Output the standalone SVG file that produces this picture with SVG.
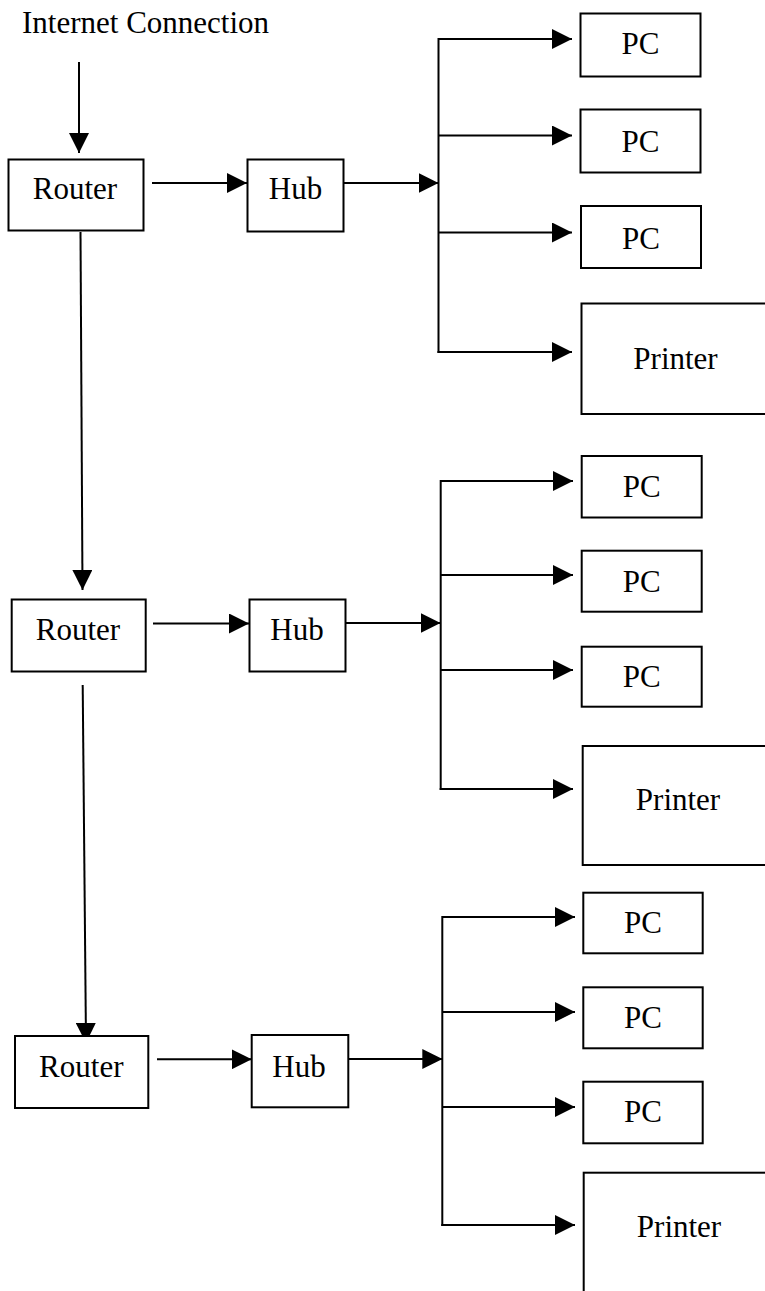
<svg xmlns="http://www.w3.org/2000/svg" width="765" height="1291" viewBox="0 0 765 1291">
<style>
.box{fill:#fff;stroke:#000;stroke-width:2}
.lbl{font-family:"Liberation Serif","Times New Roman",serif;font-size:31px;fill:#000;text-anchor:middle}
.c{stroke:#000;stroke-width:2;fill:none}
.a{stroke:#000;stroke-width:2;fill:none;marker-end:url(#ah)}
</style>
<defs>
<marker id="ah" markerUnits="userSpaceOnUse" markerWidth="20" markerHeight="20" refX="20" refY="10" orient="auto" viewBox="0 0 20 20">
<path d="M0,0 L20,10 L0,20 z" fill="#000"/>
</marker>
</defs>
<rect width="765" height="1291" fill="#fff"/>
<text class="lbl" x="22" y="33" style="text-anchor:start">Internet Connection</text>

<g id="connectors">
<line class="a" x1="79" y1="62" x2="79" y2="153"/>
<line class="a" x1="152" y1="183" x2="247" y2="183"/>
<line class="a" x1="343" y1="183" x2="438.5" y2="183"/>
<line class="c" x1="438.5" y1="38" x2="438.5" y2="353"/>
<line class="a" x1="438.5" y1="39" x2="572" y2="39"/>
<line class="a" x1="438.5" y1="135.5" x2="572" y2="135.5"/>
<line class="a" x1="438.5" y1="232.5" x2="572" y2="232.5"/>
<line class="a" x1="437.5" y1="352" x2="572" y2="352"/>
<line class="a" x1="80.5" y1="232" x2="82.5" y2="590"/>

<line class="a" x1="153" y1="623.5" x2="249" y2="623.5"/>
<line class="a" x1="346" y1="623" x2="440.5" y2="623"/>
<line class="c" x1="440.7" y1="480" x2="440.7" y2="790"/>
<line class="a" x1="440.7" y1="481" x2="573" y2="481"/>
<line class="a" x1="440.7" y1="575" x2="573" y2="575"/>
<line class="a" x1="440.7" y1="670" x2="573" y2="670"/>
<line class="a" x1="439.7" y1="789" x2="573" y2="789"/>
<line class="a" x1="82.7" y1="685" x2="86" y2="1043"/>

<line class="a" x1="157" y1="1059.3" x2="251.7" y2="1059.3"/>
<line class="a" x1="348.3" y1="1059" x2="442.3" y2="1059"/>
<line class="c" x1="442.3" y1="916" x2="442.3" y2="1226"/>
<line class="a" x1="442.3" y1="917" x2="575" y2="917"/>
<line class="a" x1="442.3" y1="1012" x2="575" y2="1012"/>
<line class="a" x1="442.3" y1="1107" x2="575" y2="1107"/>
<line class="a" x1="441.3" y1="1225" x2="575" y2="1225"/>
</g>

<g id="router1"><rect class="box" x="8.5" y="159.5" width="135" height="71"/><text class="lbl" x="75" y="199">Router</text></g>
<g id="hub1"><rect class="box" x="247.5" y="159.5" width="96" height="72"/><text class="lbl" x="295.5" y="199">Hub</text></g>
<g id="pc1a"><rect class="box" x="580.5" y="13.5" width="120" height="63"/><text class="lbl" x="640.5" y="54">PC</text></g>
<g id="pc1b"><rect class="box" x="580.5" y="109.5" width="120" height="63"/><text class="lbl" x="640.5" y="151.5">PC</text></g>
<g id="pc1c"><rect class="box" x="581" y="206" width="120" height="62"/><text class="lbl" x="641" y="248.5">PC</text></g>
<g id="printer1"><rect class="box" x="581.5" y="303.5" width="200" height="110.5"/><text class="lbl" x="675.5" y="368.5">Printer</text></g>

<g id="router2"><rect class="box" x="11.7" y="599.5" width="134" height="72"/><text class="lbl" x="78" y="640">Router</text></g>
<g id="hub2"><rect class="box" x="249.5" y="599.5" width="96" height="72"/><text class="lbl" x="297" y="640">Hub</text></g>
<g id="pc2a"><rect class="box" x="581.7" y="456" width="120" height="61.5"/><text class="lbl" x="641.7" y="496.7">PC</text></g>
<g id="pc2b"><rect class="box" x="581.7" y="550.7" width="120" height="61"/><text class="lbl" x="641.7" y="591.7">PC</text></g>
<g id="pc2c"><rect class="box" x="581.7" y="646.7" width="120" height="60"/><text class="lbl" x="641.7" y="686.7">PC</text></g>
<g id="printer2"><rect class="box" x="582.7" y="746" width="200" height="119"/><text class="lbl" x="678" y="810">Printer</text></g>

<g id="router3"><rect class="box" x="15" y="1036" width="133.3" height="72"/><text class="lbl" x="81.3" y="1076.7">Router</text></g>
<g id="hub3"><rect class="box" x="251.7" y="1035" width="96.6" height="72.3"/><text class="lbl" x="299" y="1076.7">Hub</text></g>
<g id="pc3a"><rect class="box" x="583.3" y="892.7" width="119.4" height="60.6"/><text class="lbl" x="643" y="933.3">PC</text></g>
<g id="pc3b"><rect class="box" x="583.3" y="987.3" width="119.4" height="61"/><text class="lbl" x="643" y="1027.7">PC</text></g>
<g id="pc3c"><rect class="box" x="583.3" y="1081.7" width="119.4" height="61.6"/><text class="lbl" x="643" y="1122.3">PC</text></g>
<g id="printer3"><rect class="box" x="583.7" y="1172.7" width="200" height="140"/><text class="lbl" x="679" y="1236.7">Printer</text></g>
</svg>
